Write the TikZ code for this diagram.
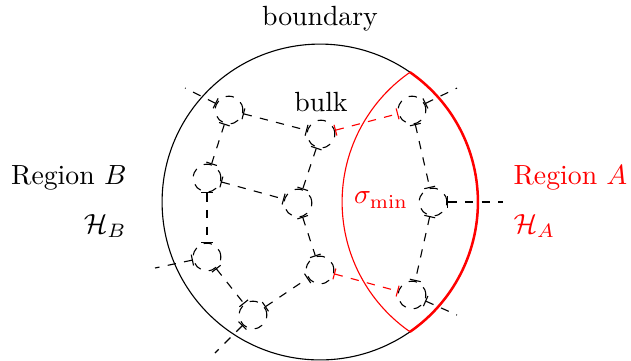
\documentclass[tikz,border=0pt]{standalone}
\usetikzlibrary{arrows.meta}
\begin{document}
\begin{tikzpicture}[x=0.01266cm,y=-0.01266cm,
  bnode/.style={circle, draw, dashed, minimum size=0.35cm, inner sep=0pt},
  link/.style={dashed, {Bar[width=4pt]}-{Bar[width=4pt]}},
  leg/.style={dashed, {Bar[width=4pt]}-},
  rlink/.style={link, red},
  lbl/.style={inner sep=0pt}]
\useasboundingbox (0,0) rectangle (631,360);
\coordinate (C) at (320,202);
\coordinate (D) at (500,202);
% boundary
\draw (C) circle[radius=2cm];
\draw[red, line width=0.9pt] ([shift={(-55.3:2cm)}]C) arc[start angle=-55.3, end angle=55.3, radius=2cm];
\draw[red] ([shift={(124.7:2cm)}]D) arc[start angle=124.7, end angle=235.3, radius=2cm];
% bulk nodes
\node[bnode] (n1) at (229,110) {};
\node[bnode] (n2) at (321,134) {};
\node[bnode] (n3) at (207,178) {};
\node[bnode] (n4) at (298,203) {};
\node[bnode] (n5) at (412,110) {};
\node[bnode] (n6) at (433,202) {};
\node[bnode] (n7) at (207,257) {};
\node[bnode] (n8) at (320,270) {};
\node[bnode] (n9) at (253,315) {};
\node[bnode] (n10) at (412,295) {};
% leg ends
\coordinate (e1) at (185,88);
\coordinate (e5) at (457,88);
\coordinate (e6) at (503,202);
\coordinate (e10) at (457,315);
\coordinate (e7) at (155,268);
\coordinate (e9) at (215,353);
% links
\draw[link] (n1) -- (n2);
\draw[link] (n1) -- (n3);
\draw[link] (n2) -- (n4);
\draw[link] (n3) -- (n4);
\draw[link] (n3) -- (n7);
\draw[link] (n4) -- (n8);
\draw[link] (n7) -- (n9);
\draw[link] (n9) -- (n8);
\draw[link] (n5) -- (n6);
\draw[link] (n6) -- (n10);
\draw[rlink] (n2) -- (n5);
\draw[rlink] (n8) -- (n10);
% legs
\draw[leg] (n1) -- (e1);
\draw[leg] (n5) -- (e5);
\draw[leg] (n6) -- (e6);
\draw[leg] (n10) -- (e10);
\draw[leg] (n7) -- (e7);
\draw[leg] (n9) -- (e9);
% labels
\node[lbl] (tb) at (320,19) {boundary};
\node[lbl] (tk) at (321,102) {bulk};
\node[lbl, red] (ts) at (381,200) {$\sigma_{\min}$};
\node[lbl, anchor=east] (rb) at (127,178) {Region $B$};
\node[lbl, anchor=east] (hb) at (127,226) {$\mathcal{H}_B$};
\node[lbl, anchor=west, red] (ra) at (513,178) {Region $A$};
\node[lbl, anchor=west, red] (ha) at (513,226) {$\mathcal{H}_A$};
\end{tikzpicture}
\end{document}
